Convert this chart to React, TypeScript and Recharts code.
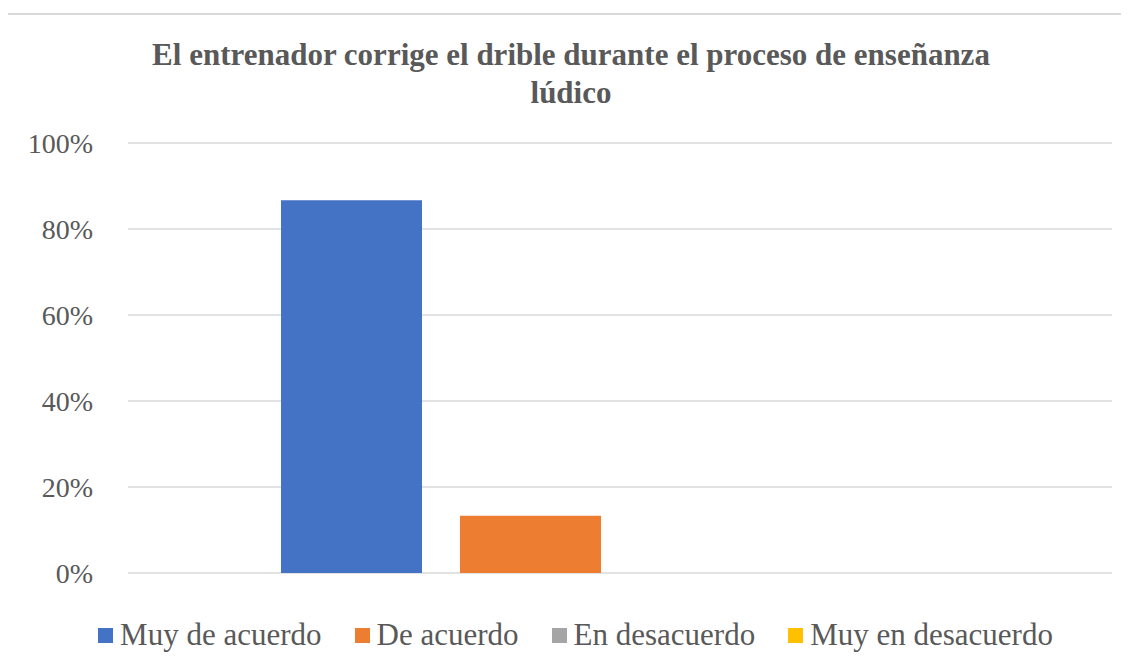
import { BarChart, Bar, XAxis, YAxis, CartesianGrid } from 'recharts'

const categories = ['Respuesta']
const seriesNames = ['Muy de acuerdo', 'De acuerdo', 'En desacuerdo', 'Muy en desacuerdo']
const seriesValues = [0.867, 0.133, 0, 0]
const yTicks = [0, 0.2, 0.4, 0.6, 0.8, 1]

const COLORS = ['#4472C4', '#ED7D31', '#A5A5A5', '#FFC000']
const TEXT = '#595959'
const FONT = '"Liberation Serif", "Times New Roman", Tinos, "Noto Serif", "DejaVu Serif", Times, serif'

const data = categories.map((name) => {
  const row: Record<string, string | number> = { name }
  seriesNames.forEach((s, j) => {
    row[s] = seriesValues[j]
  })
  return row
})

function ChartLegend() {
  return (
    <div
      style={{
        position: 'absolute',
        left: 0,
        top: 617,
        width: 1151,
        display: 'flex',
        justifyContent: 'center',
        fontFamily: FONT,
        fontSize: 31,
        color: TEXT,
        lineHeight: '36px',
      }}
    >
      {seriesNames.map((s, i) => (
        <div key={s} style={{ display: 'flex', alignItems: 'center', marginRight: i < seriesNames.length - 1 ? 33 : 0 }}>
          <span style={{ width: 15, height: 15, background: COLORS[i], display: 'inline-block', marginRight: 7 }} />
          <span>{s}</span>
        </div>
      ))}
    </div>
  )
}

export default function App() {
  return (
    <div style={{ position: 'relative', width: 1129, height: 666, margin: -8, overflow: 'hidden', background: '#fff' }}>
      <div
        style={{
          position: 'absolute',
          left: 6,
          top: 13,
          width: 1140,
          height: 680,
          border: '2px solid #d9d9d9',
          boxSizing: 'border-box',
        }}
      />
      <div
        style={{
          position: 'absolute',
          left: 71,
          top: 36,
          width: 1000,
          textAlign: 'center',
          fontFamily: FONT,
          fontWeight: 'bold',
          fontSize: 31,
          lineHeight: '38px',
          color: TEXT,
        }}
      >
        El entrenador corrige el drible durante el proceso de enseñanza
        <br />
        lúdico
      </div>
      <div style={{ position: 'absolute', left: 0, top: 0 }}>
        <BarChart
          width={1129}
          height={666}
          data={data}
          margin={{ top: 143, right: 17, bottom: 93, left: 0 }}
          barCategoryGap={153}
          barGap={38}
        >
          <CartesianGrid vertical={false} stroke="#d9d9d9" strokeWidth={1.5} />
          <XAxis dataKey="name" hide />
          <YAxis
            width={128}
            domain={[0, 1]}
            ticks={yTicks}
            axisLine={false}
            tickLine={false}
            tickSize={0}
            tickMargin={35}
            tickFormatter={(v: number) => `${Math.round(v * 100)}%`}
            tick={{ fill: TEXT, fontSize: 28, fontFamily: FONT }}
          />
          {seriesNames.map((s, i) => (
            <Bar key={s} dataKey={s} fill={COLORS[i]} isAnimationActive={false} />
          ))}
        </BarChart>
      </div>
      <ChartLegend />
    </div>
  )
}
